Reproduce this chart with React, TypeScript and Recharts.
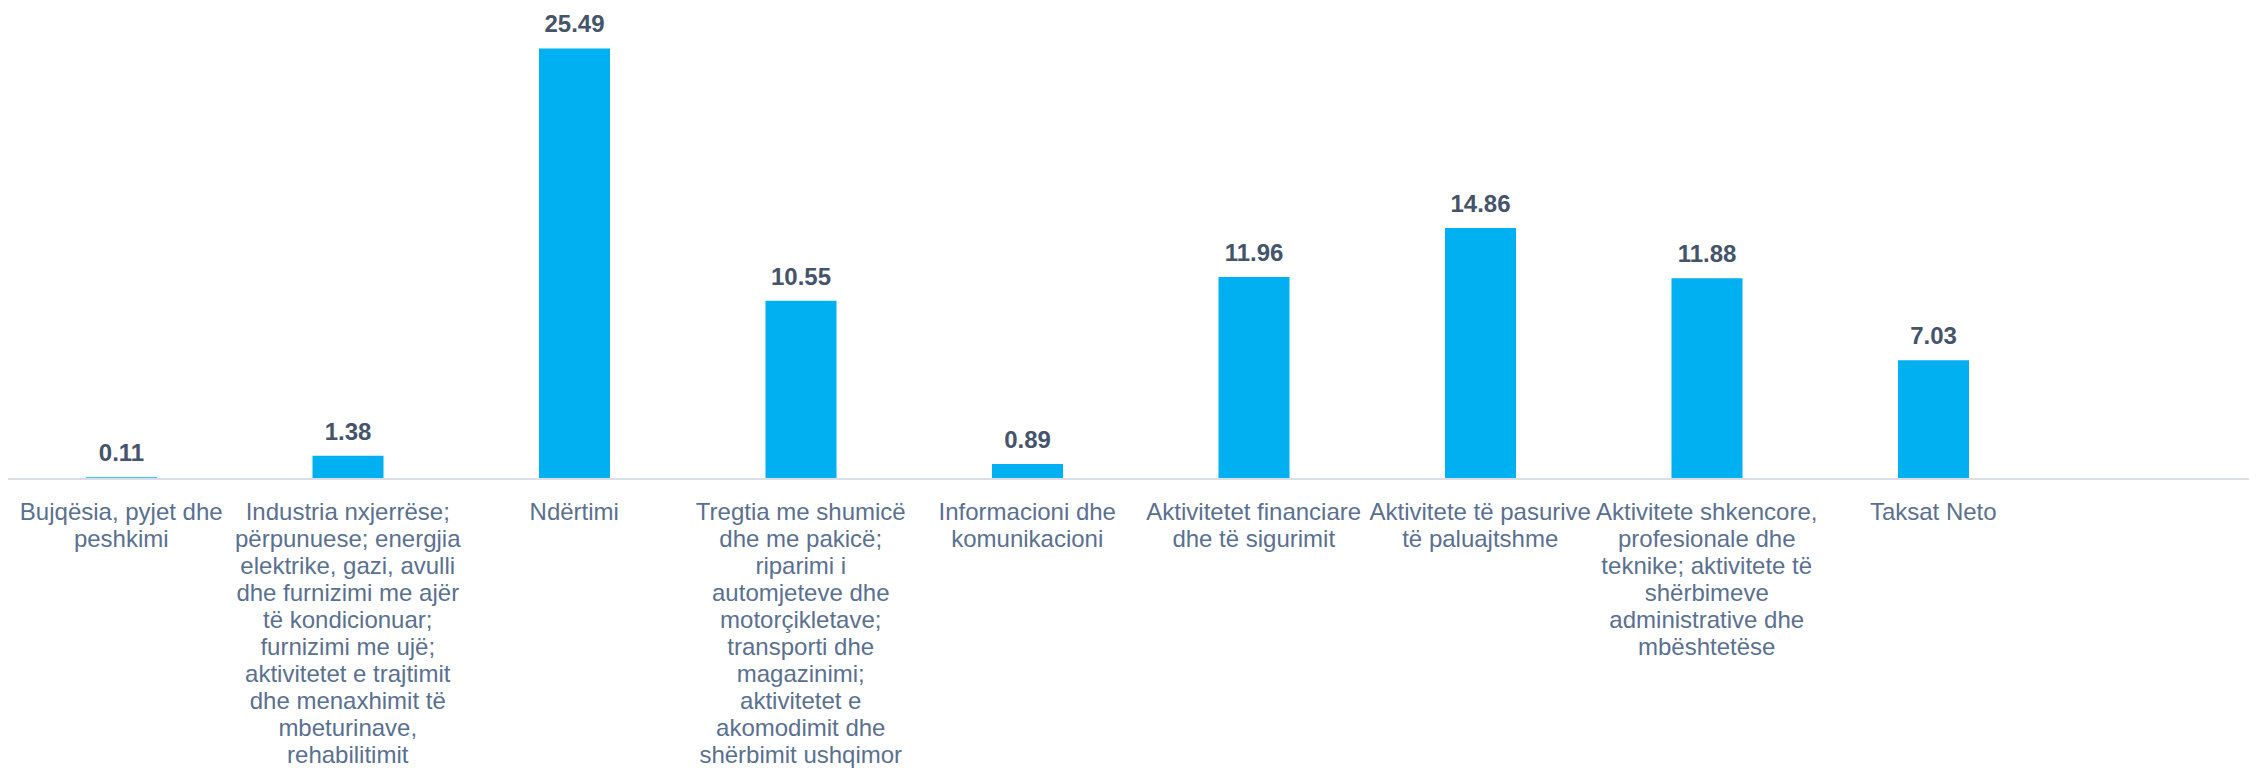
import React from 'react';
import { BarChart, Bar, XAxis, YAxis, LabelList } from 'recharts';

// categories (last one is the empty slot the original chart leaves at the right)
const categories = [
  'Bujqësia, pyjet dhe peshkimi',
  'Industria nxjerrëse; përpunuese; energjia elektrike, gazi, avulli dhe furnizimi me ajër të kondicionuar; furnizimi me ujë; aktivitetet e trajtimit dhe menaxhimit të mbeturinave, rehabilitimit',
  'Ndërtimi',
  'Tregtia me shumicë dhe me pakicë; riparimi i automjeteve dhe motorçikletave; transporti dhe magazinimi; aktivitetet e akomodimit dhe shërbimit ushqimor',
  'Informacioni dhe komunikacioni',
  'Aktivitetet financiare dhe të sigurimit',
  'Aktivitete të pasurive të paluajtshme',
  'Aktivitete shkencore, profesionale dhe teknike; aktivitete të shërbimeve administrative dhe mbështetëse',
  'Taksat Neto',
  '',
];

const values = [0.11, 1.38, 25.49, 10.55, 0.89, 11.96, 14.86, 11.88, 7.03, null];

// tick labels as they wrap under each bar
const tickLines = [
  ['Bujqësia, pyjet dhe', 'peshkimi'],
  [
    'Industria nxjerrëse;',
    'përpunuese; energjia',
    'elektrike, gazi, avulli',
    'dhe furnizimi me ajër',
    'të kondicionuar;',
    'furnizimi me ujë;',
    'aktivitetet e trajtimit',
    'dhe menaxhimit të',
    'mbeturinave,',
    'rehabilitimit',
  ],
  ['Ndërtimi'],
  [
    'Tregtia me shumicë',
    'dhe me pakicë;',
    'riparimi i',
    'automjeteve dhe',
    'motorçikletave;',
    'transporti dhe',
    'magazinimi;',
    'aktivitetet e',
    'akomodimit dhe',
    'shërbimit ushqimor',
  ],
  ['Informacioni dhe', 'komunikacioni'],
  ['Aktivitetet financiare', 'dhe të sigurimit'],
  ['Aktivitete të pasurive', 'të paluajtshme'],
  [
    'Aktivitete shkencore,',
    'profesionale dhe',
    'teknike; aktivitete të',
    'shërbimeve',
    'administrative dhe',
    'mbështetëse',
  ],
  ['Taksat Neto'],
  [],
];

const data = categories.map((name, i) => ({ name, value: values[i] }));

const FONT = '"Liberation Sans", Arial, sans-serif';

function WrappedTick(props: any) {
  const { x, y, payload } = props;
  const lines = tickLines[payload.index] || [];
  return (
    <text x={x} y={y} textAnchor="middle" fill="#5A7090" fontSize={24} fontFamily={FONT}>
      {lines.map((line, i) => (
        <tspan key={i} x={x} dy={i === 0 ? 41 : 27}>
          {line}
        </tspan>
      ))}
    </text>
  );
}

export default function App() {
  return (
    <div style={{ width: 2249, height: 760, overflow: 'hidden' }}>
      <BarChart
        width={2249}
        height={760}
        data={data}
        margin={{ top: -2, right: -16, bottom: 0, left: 0 }}
      >
        <XAxis
          dataKey="name"
          interval={0}
          height={289}
          tickLine={false}
          tickSize={0}
          tickMargin={0}
          axisLine={{ stroke: '#D9DEE8', strokeWidth: 2 }}
          tick={<WrappedTick />}
        />
        <YAxis hide domain={[0, 28]} />
        <Bar dataKey="value" fill="#00B0F0" barSize={71} isAnimationActive={false}>
          <LabelList
            dataKey="value"
            position="top"
            offset={16}
            fill="#44546A"
            fontSize={24}
            fontWeight="bold"
            fontFamily={FONT}
            formatter={(v: any) => (v == null ? '' : Number(v).toFixed(2))}
          />
        </Bar>
      </BarChart>
    </div>
  );
}
